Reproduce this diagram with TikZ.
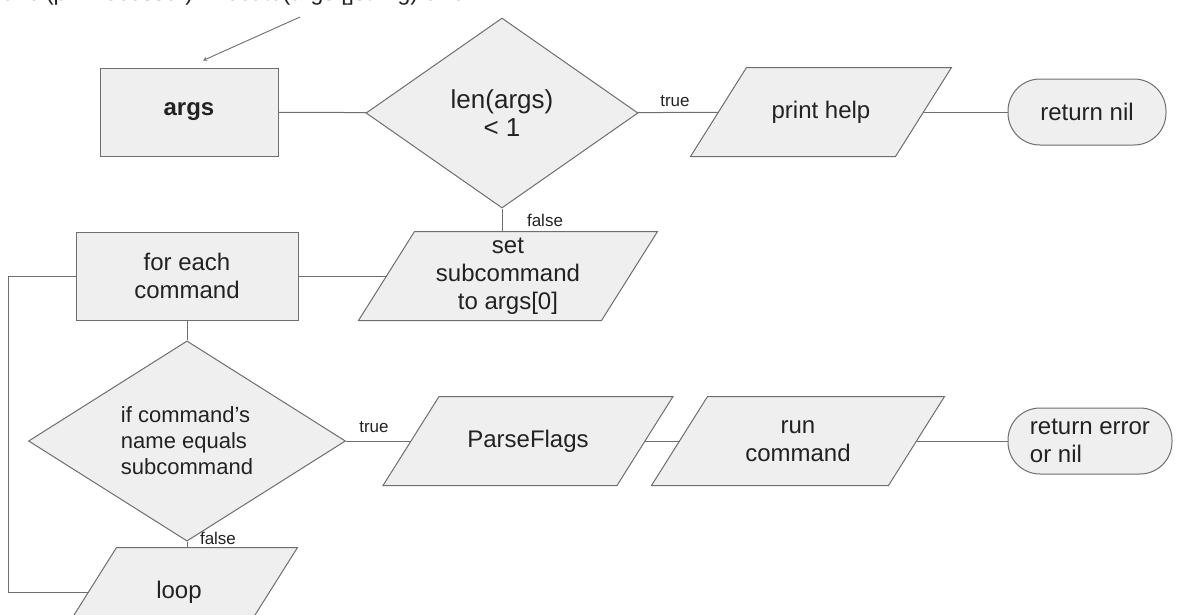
\documentclass[tikz,border=0pt]{standalone}
\usepackage{fontspec}
\setmainfont{Liberation Sans}
\usetikzlibrary{shapes.geometric,backgrounds}
\definecolor{boxfill}{HTML}{EFEFEF}
\definecolor{boxline}{HTML}{6E6E6E}
\definecolor{ink}{HTML}{222222}
\tikzset{
  shape base/.style={draw=boxline, fill=boxfill, line width=1pt, text=ink, inner sep=2pt,
    font=\fontsize{24}{28}\selectfont, align=center},
  procbox/.style={shape base, rectangle, minimum width=#1, minimum height=88},
  % text part of a parallelogram, the slanted outline is added by \slantback
  iobox/.style={shape base, rectangle, draw=none, fill=none, minimum width=#1, minimum height=88},
  slantline/.style={draw=boxline, fill=boxfill, line width=1pt, line join=miter},
  decbox/.style={shape base, diamond, inner sep=0pt},
  endbox/.style={shape base, rectangle, rounded corners=32, minimum width=#1, minimum height=66},
  conn/.style={draw=boxline, line width=1pt},
  lbl/.style={text=ink, inner sep=0pt, font=\fontsize{17}{19}\selectfont},
}
% slanted outline behind an iobox node
\newcommand{\slantback}[1]{%
  \begin{scope}[on background layer]
    \path[slantline] ([xshift=28]#1.north west) -- ([xshift=28]#1.north east)
      -- ([xshift=-28]#1.south east) -- ([xshift=-28]#1.south west) -- cycle;
  \end{scope}}
\begin{document}
\begin{tikzpicture}[x=1pt,y=-1pt]
    \useasboundingbox (0,0) rectangle (1179,614);
    \clip (0,0) rectangle (1179,614);
    % signature line, cut off at the top edge
    \node[anchor=base west, inner sep=0pt, text=ink, font=\fontsize{23}{27}\selectfont] (sig) at (-4,0.5)
        {func (p *Processor) Execute(args []string) error};
    \coordinate (sigtail) at (300,17);
    % first row
    \node[procbox=178, font=\fontsize{24}{28}\selectfont\bfseries] (args) at (189,112) {args};
    \node[decbox, minimum width=272, minimum height=190, font=\fontsize{26}{28}\selectfont] (dec1) at (502,113) {len(args)\\< 1};
    \node[iobox=204] (help) at (821,112) {print help};
    \node[endbox=158] (retnil) at (1087,112) {return nil};
    % second row
    \node[procbox=222] (each) at (187,276) {for each\\command};
    \node[iobox=242] (setsub) at (508,276) {set\\subcommand\\to args[0]};
    % third row
    \node[decbox, minimum width=317, minimum height=173, align=left, font=\fontsize{22}{26}\selectfont] (dec2) at (187,441) {if command's\\name equals\\subcommand};
    \node[iobox=233] (parse) at (528,441) {ParseFlags};
    \node[iobox=236] (run) at (798,441) {run\\command};
    \node[endbox=164, align=left] (reterr) at (1090,441) {return error\\or nil};
    % loop back
    \node[iobox=180] (loop) at (179,592) {loop};
    \coordinate (back) at (8,592);
    \slantback{help}
    \slantback{setsub}
    \slantback{parse}
    \slantback{run}
    \slantback{loop}
    % connectors
    \draw[-stealth, draw=boxline, line width=0.9pt] (sigtail) -- ([shift={(14,-7)}]args.north);
    \draw[conn] (args) -- (dec1);
    \draw[conn] (dec1) -- (help);
    \draw[conn] (help) -- (retnil);
    \draw[conn] (dec1.south) -- (dec1.south |- setsub.north);
    \draw[conn] (each) -- (setsub);
    \draw[conn] (each) -- (dec2);
    \draw[conn] (dec2) -- (parse);
    \draw[conn] (parse) -- (run);
    \draw[conn] (run) -- (reterr);
    \draw[conn] (dec2.south) -- (dec2.south |- loop.north);
    \draw[conn] (loop.west) -- (back) |- (each.west);
    % branch labels
    \node[lbl] (t1) at (675,101) {true};
    \node[lbl] (f1) at (545,220) {false};
    \node[lbl] (t2) at (374,427) {true};
    \node[lbl] (f2) at (218,538) {false};
\end{tikzpicture}
\end{document}
